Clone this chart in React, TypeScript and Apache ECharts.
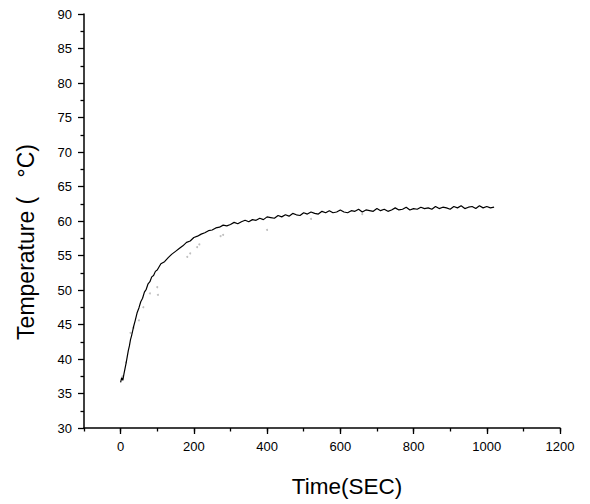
import React, { useEffect, useRef } from "react";
import * as echarts from "echarts";

// Main measured temperature trace (time in s, temperature in °C)
const mainTime = [
  0, 3, 6, 9, 12, 15, 18, 21, 24, 27, 30, 35, 40, 45, 50, 55, 60, 65, 70, 75, 80, 85, 90, 95, 100,
  110, 120, 130, 140, 150, 160, 170, 180, 190, 200, 210, 220, 230, 240, 250, 260, 270, 280, 290,
  300, 310, 320, 330, 340, 350, 360, 370, 380, 390, 400, 410, 420, 430, 440, 450, 460, 470, 480, 490,
  500, 510, 520, 530, 540, 550, 560, 570, 580, 590, 600, 610, 620, 630, 640, 650, 660, 670, 680, 690,
  700, 710, 720, 730, 740, 750, 760, 770, 780, 790, 800, 810, 820, 830, 840, 850, 860, 870, 880, 890,
  900, 910, 920, 930, 940, 950, 960, 970, 980, 990, 1000, 1010, 1020,
];
const mainTemp = [
  36.6, 37.3, 36.9, 37.8, 38.6, 39.4, 40.3, 41.2, 41.9, 42.8, 43.4, 44.6, 45.6, 46.7, 47.4, 48.3, 48.8, 49.7, 50.1, 50.9, 51.2, 51.9, 52.1, 52.7, 52.9,
  53.8, 54.1, 54.7, 55.2, 55.6, 56.0, 56.4, 56.9, 57.1, 57.6, 57.8, 58.1, 58.3, 58.6, 58.7, 59.0, 59.1, 59.4, 59.3,
  59.5, 59.8, 59.6, 59.9, 60.1, 59.9, 60.2, 60.1, 60.4, 60.2, 60.6, 60.5, 60.4, 60.8, 60.6, 60.9, 60.7, 61.1, 60.9, 60.8,
  61.2, 61.0, 61.3, 61.1, 61.0, 61.4, 61.2, 61.5, 61.2, 61.3, 61.6, 61.3, 61.2, 61.5, 61.4, 61.7, 61.3, 61.6, 61.5, 61.4,
  61.8, 61.5, 61.7, 61.4, 61.6, 61.9, 61.6, 61.7, 62.0, 61.6, 61.8, 61.7, 62.0, 61.8, 61.9, 61.7, 62.1, 61.8, 62.0, 61.9,
  61.7, 62.1, 61.9, 62.2, 61.8, 62.0, 62.1, 61.8, 62.2, 61.9, 62.1, 61.9, 62.0,
];

// Faint secondary readings
const faintTime = [5, 15, 27, 35, 50, 62, 80, 100, 102, 182, 190, 209, 215, 273, 280, 400, 520, 660];
const faintTemp = [37.5, 39.5, 43.8, 44.5, 45.6, 47.5, 49.5, 50.4, 49.3, 54.8, 55.3, 56.2, 56.6, 57.8, 58.0, 58.7, 60.3, 61.0];

const xMajor = [0, 200, 400, 600, 800, 1000, 1200];

export default function App() {
  const ref = useRef<HTMLDivElement>(null);
  useEffect(() => {
    if (!ref.current) return;
    const chart = echarts.init(ref.current, null, { renderer: "svg" });
    const font = "'Liberation Sans', Arial, sans-serif";
    chart.setOption({
      animation: false,
      backgroundColor: "#ffffff",
      grid: { left: 84, right: 30, top: 14, bottom: 76, containLabel: false },
      xAxis: [
        {
          type: "value",
          min: -100,
          max: 1200,
          interval: 100,
          axisLine: { show: true, onZero: false, lineStyle: { color: "#000", width: 1.5 } },
          axisTick: { show: true, length: 6, inside: false, customValues: xMajor, lineStyle: { color: "#000", width: 1.3 } },
          axisLabel: {
            customValues: xMajor,
            margin: 12,
            color: "#000",
            fontSize: 13,
            fontFamily: font,
            formatter: (v: number) => String(v),
          },
          splitLine: { show: false },
        },
        {
          type: "value",
          position: "bottom",
          offset: 0,
          min: -100,
          max: 1200,
          interval: 100,
          axisLine: { show: false, onZero: false },
          axisTick: { show: true, length: 3.5, inside: false, lineStyle: { color: "#000", width: 1.3 } },
          axisLabel: { show: false },
          splitLine: { show: false },
        },
      ],
      yAxis: {
        type: "value",
        min: 30,
        max: 90,
        interval: 5,
        axisLine: { show: true, onZero: false, lineStyle: { color: "#000", width: 1.5 } },
        axisTick: { show: true, length: 6, lineStyle: { color: "#000", width: 1.3 } },
        minorTick: { show: true, splitNumber: 2, length: 3.5, lineStyle: { color: "#000", width: 1.3 } },
        axisLabel: { margin: 12, color: "#000", fontSize: 13, fontFamily: font },
        splitLine: { show: false },
        minorSplitLine: { show: false },
      },
      graphic: [
        {
          type: "text",
          x: 347,
          y: 486,
          style: { text: "Time(SEC)", fontSize: 22.5, fontFamily: font, fill: "#000", align: "center", verticalAlign: "middle" },
        },
        {
          type: "text",
          x: 26,
          y: 242,
          rotation: Math.PI / 2,
          style: { text: "Temperature (   °C)", fontSize: 23, fontFamily: font, fill: "#000", align: "center", verticalAlign: "middle" },
        },
      ],
      series: [
        {
          type: "scatter",
          xAxisIndex: 0,
          data: faintTime.map((t, i) => [t, faintTemp[i]]),
          symbolSize: 2,
          itemStyle: { color: "#b0b0b0" },
          silent: true,
        },
        {
          type: "line",
          xAxisIndex: 0,
          data: mainTime.map((t, i) => [t, mainTemp[i]]),
          showSymbol: false,
          lineStyle: { color: "#000", width: 1.2 },
          silent: true,
        },
      ],
    });
    return () => chart.dispose();
  }, []);
  return <div ref={ref} style={{ width: 590, height: 504, position: "absolute", left: 0, top: 0 }} />;
}
